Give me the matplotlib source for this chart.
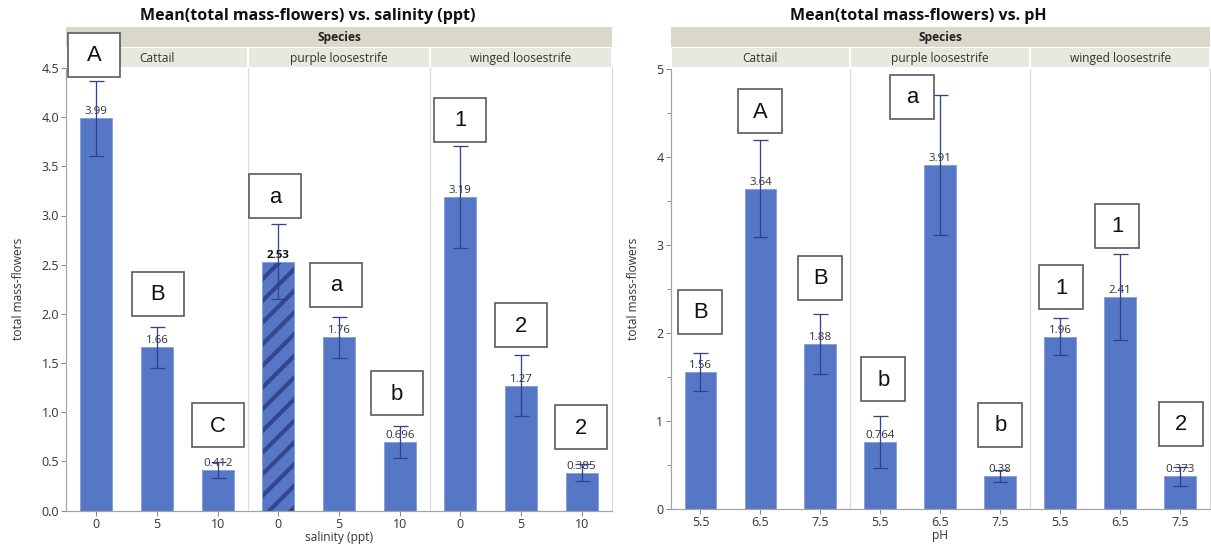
import matplotlib
matplotlib.use("Agg")
import matplotlib.pyplot as plt
from matplotlib.patches import Rectangle
from matplotlib.offsetbox import DrawingArea, AnnotationBbox
from matplotlib.text import Text
from matplotlib.ticker import MultipleLocator

# ---------------- data ----------------
species = ["Cattail", "purple loosestrife", "winged loosestrife"]
salinity_levels = ["0", "5", "10"]
ph_levels = ["5.5", "6.5", "7.5"]

# means and standard errors, ordered species x level
salinity_means = [3.99, 1.66, 0.412, 2.53, 1.76, 0.696, 3.19, 1.27, 0.385]
salinity_err = [0.38, 0.21, 0.078, 0.38, 0.21, 0.16, 0.52, 0.31, 0.085]
salinity_groups = ["A", "B", "C", "a", "a", "b", "1", "2", "2"]

ph_means = [1.56, 3.64, 1.88, 0.764, 3.91, 0.38, 1.96, 2.41, 0.373]
ph_err = [0.22, 0.55, 0.34, 0.29, 0.80, 0.067, 0.21, 0.49, 0.11]
ph_groups = ["B", "A", "B", "b", "a", "b", "1", "1", "2"]

# ---------------- style ----------------
DPI = 130
W, H = 1211, 544
PT = 72.0 / DPI  # points per pixel

BAR = "#5677C5"
BAR_EDGE = "#8AA0DA"
HATCH = "#34478E"
ERR = "#30428C"
STRIP1 = "#DAD8C8"
STRIP2 = "#E8E8DF"
AXIS = "#A3A3A3"
TXT = "#333333"

plt.rcParams["font.family"] = ["Open Sans", "DejaVu Sans"]
plt.rcParams["hatch.linewidth"] = 3.0 * PT * 1.4

fig = plt.figure(figsize=(W / DPI, H / DPI), dpi=DPI)


def frac(x0, y0, x1, y1):
    """pixel box (top-left origin) -> figure fraction rect"""
    return [x0 / W, 1 - y1 / H, (x1 - x0) / W, (y1 - y0) / H]


def letter_box(ax, x, y, s, dx, gap, bw, bh):
    da = DrawingArea(bw * PT, bh * PT, 0, 0, clip=False)
    da.add_artist(Rectangle((0, 0), bw * PT, bh * PT, facecolor="white",
                            edgecolor="#555555", linewidth=1.6 * PT))
    da.add_artist(Text(bw * PT / 2, bh * PT / 2 - 0.5, s, ha="center",
                       va="center", fontsize=22 * PT, color="#111111",
                       family=["Liberation Sans", "DejaVu Sans"]))
    ab = AnnotationBbox(da, (x, y), xybox=(dx * PT, gap * PT),
                        xycoords="data", boxcoords="offset points",
                        box_alignment=(0.5, 0.0), frameon=False, pad=0,
                        annotation_clip=False, zorder=10)
    ax.add_artist(ab)


def panel(px0, px1, py_top, py_bot, means, errs, groups, levels, xlabel,
          ymax, major, minor, fmt, title, title_x, nudges, box_w, bold_idx=None):
    n = len(means)
    xs = list(range(n))
    # strips
    s1 = fig.add_axes(frac(px0, 27, px1, 47))
    s1.set_xlim(0, 1)
    s1.set_ylim(0, 1)
    s1.axis("off")
    s1.add_patch(Rectangle((0, 0), 1, 1, facecolor=STRIP1, edgecolor="none"))
    s1.text(0.5, 0.45, "Species", ha="center", va="center",
            fontsize=12 * PT, fontweight="bold", color="#222222")
    s2 = fig.add_axes(frac(px0, 47, px1, 68))
    s2.set_xlim(-0.5, n - 0.5)
    s2.set_ylim(0, 1)
    s2.axis("off")
    for i, sp in enumerate(species):
        s2.add_patch(Rectangle((i * 3 - 0.5, 0), 3, 1, facecolor=STRIP2,
                               edgecolor="white", linewidth=2 * PT))
        s2.text(i * 3 + 1, 0.45, sp, ha="center", va="center",
                fontsize=12 * PT, color="#333333")

    ax = fig.add_axes(frac(px0, py_top, px1, py_bot))
    ax.set_zorder(5)
    ax.patch.set_alpha(0)
    ax.set_xlim(-0.5, n - 0.5)
    ax.set_ylim(0, ymax)

    for b in (2.5, 5.5):
        ax.axvline(b, color="#DCDCDC", lw=1.2 * PT, zorder=0)

    for i in xs:
        if i == bold_idx:
            ax.bar(i, means[i], width=0.53, color=BAR, edgecolor=HATCH,
                   linewidth=0, hatch="//", zorder=2)
            ax.bar(i, means[i], width=0.53, fill=False, edgecolor=BAR_EDGE,
                   linewidth=1 * PT, zorder=2)
        else:
            ax.bar(i, means[i], width=0.53, color=BAR, edgecolor=BAR_EDGE,
                   linewidth=1 * PT, zorder=2)
        lab = format(means[i], ".3g")
        ax.annotate(lab, (i, means[i]), xytext=(0, 1.0 * PT),
                    textcoords="offset points", ha="center", va="bottom",
                    fontsize=11.5 * PT,
                    color="#111111" if i == bold_idx else TXT,
                    fontweight="bold" if i == bold_idx else "normal",
                    zorder=3)
    ax.errorbar(xs, means, yerr=errs, fmt="none", ecolor=ERR,
                elinewidth=1.3 * PT, capsize=7.5 * PT, capthick=1.3 * PT,
                zorder=4)

    for i in xs:
        dx, gap = nudges[i]
        letter_box(ax, i, means[i] + errs[i], groups[i], dx, gap, box_w, 44)

    ax.set_xticks(xs)
    ax.set_xticklabels(levels * 3)
    ax.yaxis.set_major_locator(MultipleLocator(major))
    if minor:
        ax.yaxis.set_minor_locator(MultipleLocator(minor))
    ax.yaxis.set_major_formatter(plt.FuncFormatter(lambda v, p: format(v, fmt)))
    ax.tick_params(axis="both", which="both", direction="out", color="#8A8A8A",
                   width=1 * PT, labelsize=12.5 * PT, labelcolor=TXT)
    ax.tick_params(axis="both", which="major", length=5 * PT, pad=2 * PT)
    ax.tick_params(axis="y", which="minor", length=4 * PT)
    for side in ("left", "bottom"):
        ax.spines[side].set_color(AXIS)
        ax.spines[side].set_linewidth(1.2 * PT)
    ax.spines["right"].set_color("#D6D6D6")
    ax.spines["right"].set_linewidth(1 * PT)
    ax.spines["top"].set_visible(False)

    ax.set_xlabel(xlabel, fontsize=12 * PT, color=TXT, labelpad=0)
    ax.set_ylabel("total mass-flowers", fontsize=12 * PT, color=TXT,
                  labelpad=16 * PT)
    fig.text(title_x / W, 1 - 16.5 / H, title, ha="center", va="center",
             fontsize=16 * PT, fontweight="bold", color="#111111")
    return ax


left_nudges = [(-2, 4), (1, 11), (0, 15), (-3, 6), (-3, 10), (-3, 11),
               (0, 4), (0, 8), (-1, 15)]
right_nudges = [(0, 19), (0, 7), (0, 14), (3, 15), (-28, -24), (0, 23),
                (1, 9), (-3, 6), (1, 21)]

panel(66, 612, 68, 510.5, salinity_means, salinity_err, salinity_groups,
      salinity_levels, "salinity (ppt)", 4.5, 0.5, None, ".1f",
      "Mean(total mass-flowers) vs. salinity (ppt)", 308, left_nudges, 52,
      bold_idx=3)
panel(670.5, 1210, 69, 509.3, ph_means, ph_err, ph_groups,
      ph_levels, "pH", 5.0, 1.0, 0.5, ".0f",
      "Mean(total mass-flowers) vs. pH", 918, right_nudges, 44)

fig.savefig("out.png", dpi=DPI, facecolor="white")
